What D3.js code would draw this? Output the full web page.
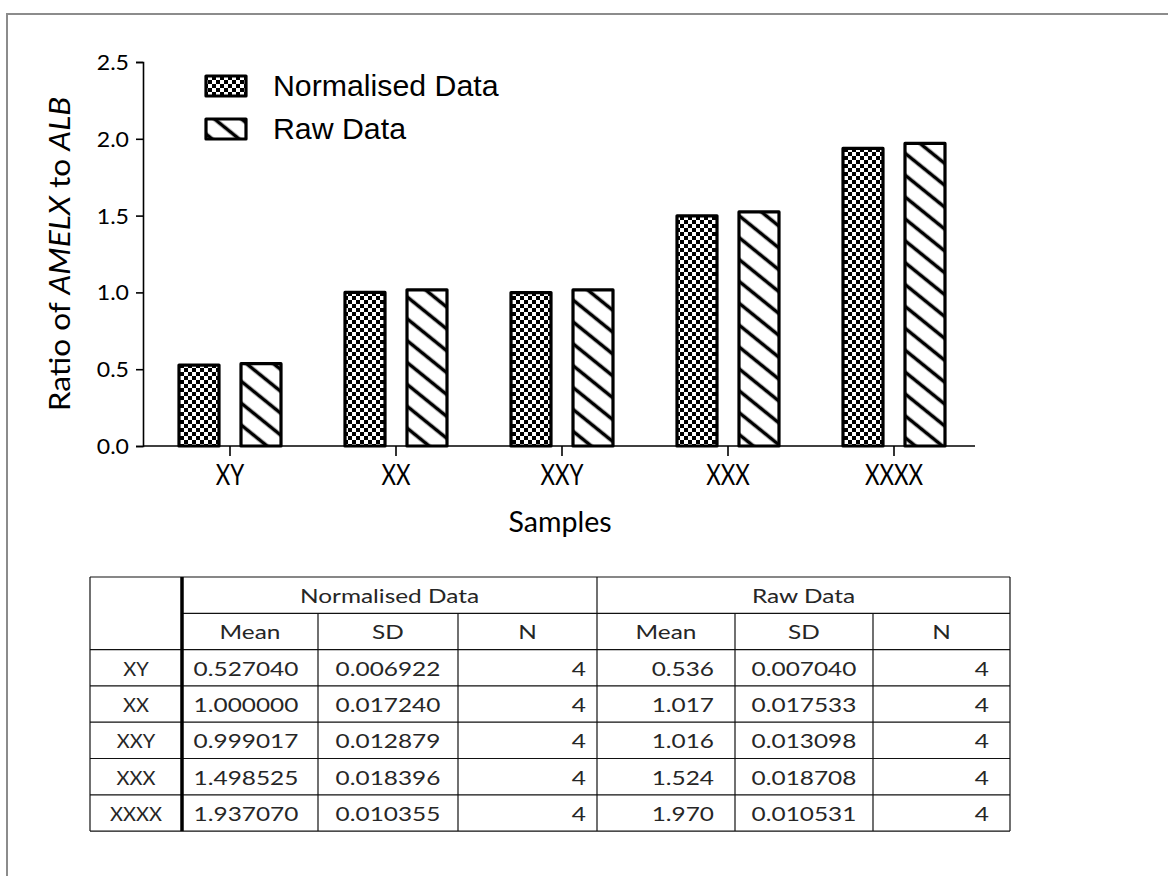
<!DOCTYPE html>
<html>
<head>
<meta charset="utf-8">
<script src="https://cdn.jsdelivr.net/npm/d3@7"></script>
<style>
  html, body { margin: 0; padding: 0; background: #fff; }
  svg { display: block; }
</style>
</head>
<body>
<svg id="chart" width="1168" height="876"></svg>
<script>
// ---- data ----
const categories = ["XY", "XX", "XXY", "XXX", "XXXX"];
const seriesNames = ["Normalised Data", "Raw Data"];
const normMean = [0.527040, 1.000000, 0.999017, 1.498525, 1.937070];
const normSD   = [0.006922, 0.017240, 0.012879, 0.018396, 0.010355];
const normN    = [4, 4, 4, 4, 4];
const rawMean  = [0.536, 1.017, 1.016, 1.524, 1.970];
const rawSD    = [0.007040, 0.017533, 0.013098, 0.018708, 0.010531];
const rawN     = [4, 4, 4, 4, 4];
const yTicks   = [0, 0.5, 1.0, 1.5, 2.0, 2.5];

const svg = d3.select("#chart");
const FONT = "Lato, 'Open Sans', sans-serif";

// outer frame (top and left edges)
svg.append("path")
  .attr("d", "M7,876 V14 H1168")
  .attr("fill", "none").attr("stroke", "#8c8c8c").attr("stroke-width", 2);

// ---- fill patterns ----
const defs = svg.append("defs");
const checker = defs.append("pattern")
  .attr("id", "checker").attr("patternUnits", "userSpaceOnUse")
  .attr("width", 8).attr("height", 8);
checker.append("rect").attr("width", 8).attr("height", 8).attr("fill", "#fff");
checker.append("rect").attr("width", 4).attr("height", 4).attr("fill", "#000");
checker.append("rect").attr("x", 4).attr("y", 4).attr("width", 4).attr("height", 4).attr("fill", "#000");

const hatch = defs.append("pattern")
  .attr("id", "hatch").attr("patternUnits", "userSpaceOnUse")
  .attr("width", 17).attr("height", 17)
  .attr("patternTransform", "rotate(39)");
hatch.append("rect").attr("width", 17).attr("height", 17).attr("fill", "#fff");
hatch.append("line").attr("x1", 0).attr("x2", 17).attr("y1", 8.5).attr("y2", 8.5)
  .attr("stroke", "#000").attr("stroke-width", 3.6);

const fills = { "Normalised Data": "url(#checker)", "Raw Data": "url(#hatch)" };

// ---- scales ----
const y = d3.scaleLinear().domain([0, 2.5]).range([446, 62]);
const x = d3.scaleBand().domain(categories).range([147, 977]);
const xs = d3.scaleBand().domain(seriesNames).range([32, 134]).paddingInner(22 / 62);

// text drawn with a horizontal stretch
function stretched(g, str, tx, ty, sx, anchor) {
  return g.append("text")
    .attr("transform", `translate(${tx},${ty}) scale(${sx},1)`)
    .attr("text-anchor", anchor || "middle")
    .text(str);
}

// ---- axes ----
const yAxis = svg.append("g")
  .attr("transform", "translate(143,0)")
  .call(d3.axisLeft(y).tickValues(yTicks).tickFormat(d3.format(".1f")).tickSize(7).tickPadding(6));
yAxis.select(".domain").attr("stroke-width", 1.6);
yAxis.selectAll(".tick line").attr("stroke-width", 1.6);
yAxis.selectAll(".tick text").remove();
yAxis.selectAll(".tick").each(function(d) {
  stretched(d3.select(this), d3.format(".1f")(d), -14, 7.5, 1.05, "end")
    .attr("font-family", FONT).attr("font-size", 22).attr("fill", "#000");
});

const xAxis = svg.append("g").attr("transform", "translate(0,446)");
xAxis.append("line").attr("x1", 143).attr("x2", 975)
  .attr("stroke", "#000").attr("stroke-width", 1.6);
xAxis.selectAll(".xt").data(categories).join("line")
  .attr("class", "xt")
  .attr("x1", d => x(d) + x.bandwidth() / 2).attr("x2", d => x(d) + x.bandwidth() / 2)
  .attr("y1", 0).attr("y2", 10)
  .attr("stroke", "#000").attr("stroke-width", 1.6);
categories.forEach(c => {
  stretched(xAxis, c, x(c) + x.bandwidth() / 2, 39, 0.8)
    .attr("font-family", FONT).attr("font-size", 28).attr("fill", "#000");
});

// ---- bars ----
const barData = [];
categories.forEach((c, i) => {
  barData.push({ cat: c, series: "Normalised Data", value: normMean[i] });
  barData.push({ cat: c, series: "Raw Data", value: rawMean[i] });
});
svg.append("g").selectAll("rect").data(barData).join("rect")
  .attr("x", d => x(d.cat) + xs(d.series))
  .attr("width", xs.bandwidth())
  .attr("y", d => y(d.value))
  .attr("height", d => y(0) - y(d.value))
  .attr("fill", d => fills[d.series])
  .attr("stroke", "#000").attr("stroke-width", 3.2)
  .attr("stroke-linejoin", "round");

// ---- axis titles ----
const yTitle = svg.append("text")
  .attr("transform", "translate(70,254) rotate(-90) scale(1.13,1)")
  .attr("text-anchor", "middle")
  .attr("font-family", FONT).attr("font-size", 28).attr("fill", "#000");
yTitle.append("tspan").text("Ratio of ");
yTitle.append("tspan").attr("font-style", "italic").text("AMELX");
yTitle.append("tspan").text(" to ");
yTitle.append("tspan").attr("font-style", "italic").text("ALB");

stretched(svg, "Samples", 560, 532, 1.02)
  .attr("font-family", FONT).attr("font-size", 28).attr("fill", "#000");

// ---- legend ----
const legend = svg.append("g");
seriesNames.forEach((s, i) => {
  const ly = 76 + i * 43;
  legend.append("rect").attr("x", 206).attr("y", ly).attr("width", 40).attr("height", 20)
    .attr("fill", fills[s]).attr("stroke", "#000").attr("stroke-width", 3.2)
    .attr("stroke-linejoin", "round");
  stretched(legend, s, 273, ly + 20, 1.045, "start")
    .attr("font-family", "'Liberation Sans', Arial, sans-serif").attr("font-size", 29)
    .attr("fill", "#000");
});

// ---- statistics table ----
const colX = [90, 182, 318, 458, 597, 735, 873, 1010];
const rowY = d3.range(8).map(i => 577 + i * 36.3);
const table = svg.append("g")
  .attr("font-family", FONT).attr("font-size", 20).attr("fill", "#262626");
const lineStyle = sel => sel.attr("stroke", "#111").attr("stroke-width", 1.2);

// horizontal rules
rowY.forEach((ry, i) => {
  const startX = (i === 1) ? colX[1] : colX[0];
  table.append("line").attr("x1", startX).attr("x2", colX[7]).attr("y1", ry).attr("y2", ry).call(lineStyle);
});
// vertical rules
[0, 4, 7].forEach(ci => {
  table.append("line").attr("x1", colX[ci]).attr("x2", colX[ci]).attr("y1", rowY[0]).attr("y2", rowY[7]).call(lineStyle);
});
[2, 3, 5, 6].forEach(ci => {
  table.append("line").attr("x1", colX[ci]).attr("x2", colX[ci]).attr("y1", rowY[1]).attr("y2", rowY[7]).call(lineStyle);
});
table.append("line").attr("x1", colX[1]).attr("x2", colX[1]).attr("y1", rowY[0]).attr("y2", rowY[7])
  .attr("stroke", "#000").attr("stroke-width", 3.5);

const SX = 1.22;
const mid = (a, b) => (a + b) / 2;
const baseline = r => rowY[r] + 26;

// header rows
stretched(table, seriesNames[0], mid(colX[1], colX[4]), baseline(0), SX);
stretched(table, seriesNames[1], mid(colX[4], colX[7]), baseline(0), SX);
["Mean", "SD", "N", "Mean", "SD", "N"].forEach((h, j) => {
  stretched(table, h, mid(colX[j + 1], colX[j + 2]), baseline(1), SX);
});

// body rows
const fmt6 = d3.format(".6f"), fmt3 = d3.format(".3f");
categories.forEach((c, i) => {
  const r = i + 2;
  stretched(table, c, mid(colX[0], colX[1]), baseline(r), 1.0);
  stretched(table, fmt6(normMean[i]), mid(colX[1], colX[2]) - 4, baseline(r), SX);
  stretched(table, fmt6(normSD[i]), mid(colX[2], colX[3]), baseline(r), SX);
  stretched(table, String(normN[i]), colX[4] - 11, baseline(r), SX, "end");
  stretched(table, fmt3(rawMean[i]), colX[5] - 21, baseline(r), SX, "end");
  stretched(table, fmt6(rawSD[i]), mid(colX[5], colX[6]), baseline(r), SX);
  stretched(table, String(rawN[i]), colX[7] - 21, baseline(r), SX, "end");
});
</script>
</body>
</html>
